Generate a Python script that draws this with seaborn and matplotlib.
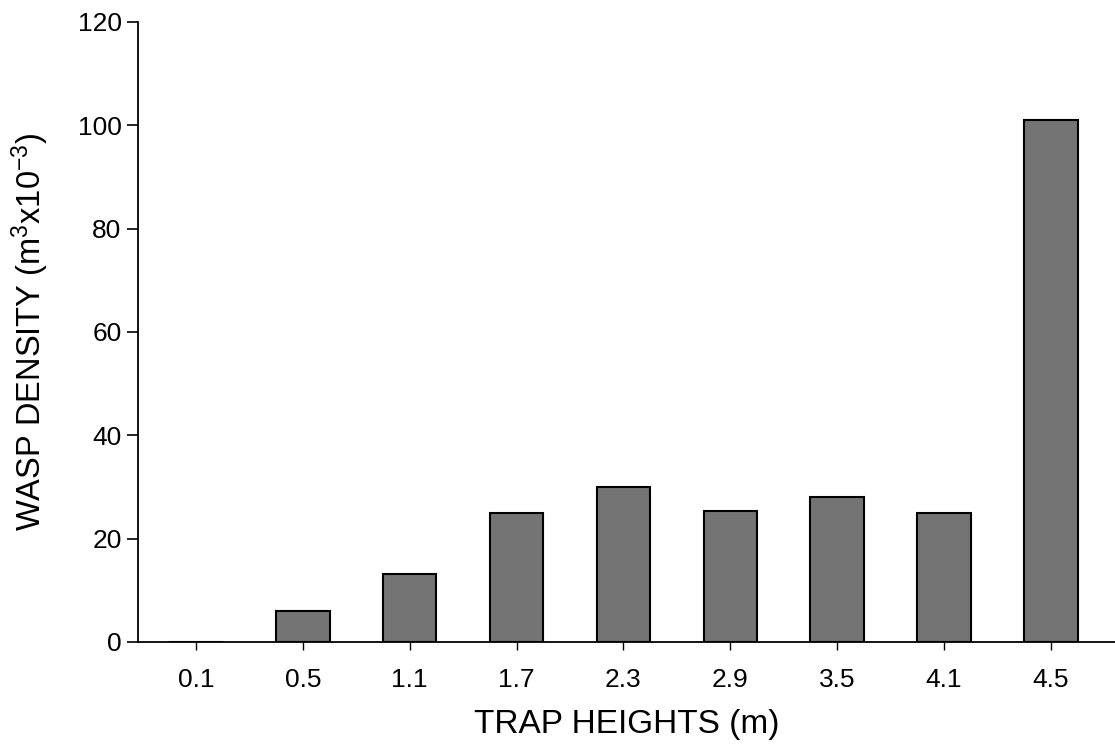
import pandas as pd
import matplotlib
matplotlib.use("Agg")
import matplotlib.pyplot as plt
import seaborn as sns

# Datos
alturas = ["0.1", "0.5", "1.1", "1.7", "2.3", "2.9", "3.5", "4.1", "4.5"]
densidad = [0, 6, 13.2, 25, 30, 25.3, 28, 25, 101]

df = pd.DataFrame({"altura": alturas, "densidad": densidad})

sns.set_style("white")
plt.rcParams["font.family"] = ["Liberation Sans", "DejaVu Sans"]
plt.rcParams["mathtext.default"] = "regular"
plt.rcParams["text.color"] = "black"
plt.rcParams["axes.labelcolor"] = "black"
plt.rcParams["xtick.color"] = "black"
plt.rcParams["ytick.color"] = "black"

fig = plt.figure(figsize=(11.15, 7.47), dpi=100)
ax = fig.add_axes([0.124, 0.1406, 0.876, 0.83])

sns.barplot(x="altura", y="densidad", data=df, color="#747474",
            edgecolor="black", linewidth=1.5, width=0.5, saturation=1, ax=ax)

ax.set_xlim(-0.54, 8.6)
ax.set_ylim(0, 120)
ax.set_yticks(range(0, 121, 20))

ax.set_xlabel("TRAP HEIGHTS (m)", fontsize=24, labelpad=12)
ax.set_ylabel("WASP DENSITY (m$^3$x10$^{-3}$)", fontsize=23.5, labelpad=19)

ax.tick_params(axis="y", direction="out", length=8, width=1.2, labelsize=19, pad=4, left=True)
ax.tick_params(axis="x", direction="out", length=6, width=1.0, labelsize=19, pad=13, bottom=True)

sns.despine(ax=ax)
for s in ["left", "bottom"]:
    ax.spines[s].set_linewidth(1.3)
    ax.spines[s].set_color("black")

fig.savefig("out.png", dpi=100)
